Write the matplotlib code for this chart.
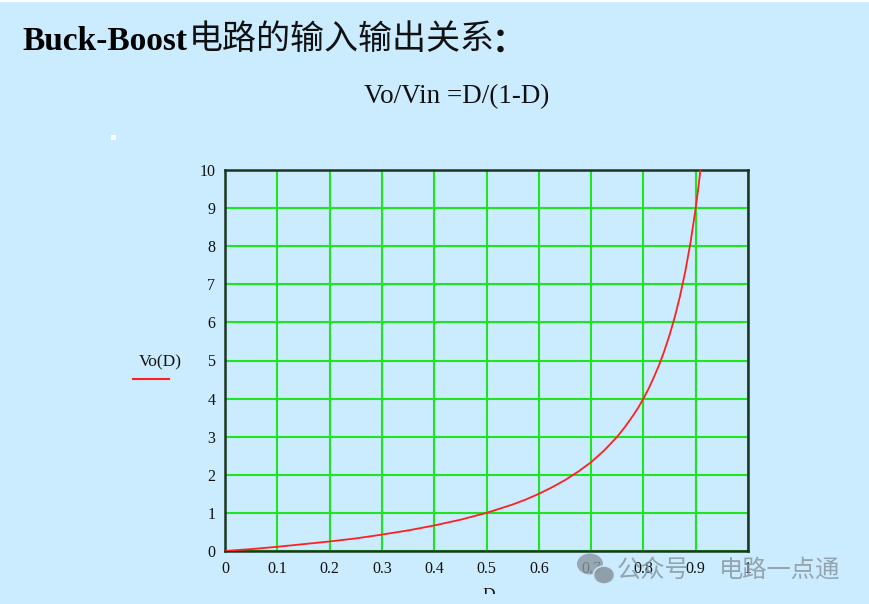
import matplotlib
matplotlib.use('Agg')
from matplotlib import pyplot as plt
from matplotlib.patches import Rectangle, Ellipse

# values
duty = [0, 0.05, 0.1, 0.15, 0.2, 0.25, 0.3, 0.35, 0.4, 0.45, 0.5, 0.525, 0.55, 0.575,
        0.6, 0.625, 0.65, 0.675, 0.7, 0.725, 0.75, 0.765, 0.78, 0.79, 0.8, 0.81, 0.82,
        0.83, 0.84, 0.85, 0.86, 0.87, 0.88, 0.89, 0.9, 0.905, 0.91]
vo = [0, 0.05, 0.11, 0.18, 0.25, 0.33, 0.43, 0.54, 0.67, 0.82, 1.0, 1.11, 1.22, 1.35,
      1.5, 1.67, 1.86, 2.08, 2.33, 2.64, 3.0, 3.26, 3.55, 3.76, 4.0, 4.26, 4.56,
      4.88, 5.25, 5.67, 6.14, 6.69, 7.33, 8.09, 9.0, 9.53, 10.1]
x_ticks = [0, 0.1, 0.2, 0.3, 0.4, 0.5, 0.6, 0.7, 0.8, 0.9, 1]
x_labels = ['0', '0.1', '0.2', '0.3', '0.4', '0.5', '0.6', '0.7', '0.8', '0.9', '1']
y_ticks = list(range(0, 11))

bg = '#cbebfe'
serif = ['Liberation Serif', 'Noto Sans CJK SC']

W, H = 869, 604
fig = plt.figure(figsize=(W / 100, H / 100), dpi=100, facecolor=bg)

def fx(px):
    return px / W

def fy(py):
    return 1 - py / H

# white strip on top
fig.patches.append(Rectangle((0, fy(2)), 1, 2 / H, transform=fig.transFigure,
                             facecolor='white', edgecolor='none'))

ax = fig.add_axes([fx(225), fy(551), 523 / W, 381 / H])
ax.set_facecolor(bg)
ax.plot(duty, vo, color='#ff2020', lw=1.3, zorder=3)
ax.set_xlim(0, 1)
ax.set_ylim(0, 10)
ax.set_xticks(x_ticks)
ax.set_xticklabels(x_labels)
ax.set_yticks(y_ticks)
ax.grid(True, color='#1ee61e', lw=1.5)
ax.set_axisbelow(True)
ax.tick_params(length=0, labelsize=11.5, pad=7, colors='#111111')
for lab in ax.get_xticklabels() + ax.get_yticklabels():
    lab.set_family('Liberation Serif')
for sp in ax.spines.values():
    sp.set_color('#1c3520')
    sp.set_linewidth(1.8)

# titles
fig.text(fx(22), fy(41), 'Buck-Boost', family=serif,
         fontsize=24, fontweight='bold', va='center', ha='left')
fig.text(fx(189), fy(40), '电路的输入输出关系', family=['Noto Sans CJK SC'],
         fontsize=24.5, fontweight='medium', va='center', ha='left', color='#111111')
fig.text(fx(492), fy(41), '：', family=['Noto Sans CJK SC'],
         fontsize=24.5, fontweight='bold', va='center', ha='left', color='#111111')
fig.text(fx(457), fy(97), 'Vo/Vin =D/(1-D)', family=serif, fontsize=19.5,
         va='center', ha='center', color='#111111')

# legend-like label on the left
fig.text(fx(160), fy(362), 'Vo(D)', family=serif, fontsize=12.5,
         va='center', ha='center', color='#111111')
fig.lines.append(plt.Line2D([fx(133), fx(169)], [fy(379), fy(379)],
                            transform=fig.transFigure, color='#ff2020', lw=1.5))

# small white mark
fig.patches.append(Rectangle((fx(111), fy(140)), 5 / W, 5 / H, transform=fig.transFigure,
                             facecolor='white', edgecolor='none'))

# x label, cut off at the bottom
fig.text(fx(489), fy(587), 'D', family=serif, fontsize=12.5, va='top', ha='center',
         color='#111111')
fig.patches.append(Rectangle((0, 0), 1, 10 / H, transform=fig.transFigure,
                             facecolor=bg, edgecolor='none', zorder=10))

# watermark
wm = '#8a98a2'
fig.patches.append(Ellipse((fx(590), fy(564)), 26 / W, 21 / H, transform=fig.transFigure,
                           facecolor=wm, edgecolor='none', alpha=0.8, zorder=11))
fig.patches.append(Ellipse((fx(604), fy(575)), 21 / W, 18 / H, transform=fig.transFigure,
                           facecolor=wm, edgecolor=bg, lw=1.2, alpha=0.9, zorder=12))
fig.text(fx(617), fy(570), '公众号', family=['Noto Sans CJK SC'], fontsize=17.5,
         color=wm, alpha=0.85, va='center', ha='left', zorder=13)
fig.text(fx(719), fy(570), '电路一点通', family=['Noto Sans CJK SC'], fontsize=17.5,
         color=wm, alpha=0.85, va='center', ha='left', zorder=13)

fig.savefig('out.png', dpi=100, facecolor=bg)
